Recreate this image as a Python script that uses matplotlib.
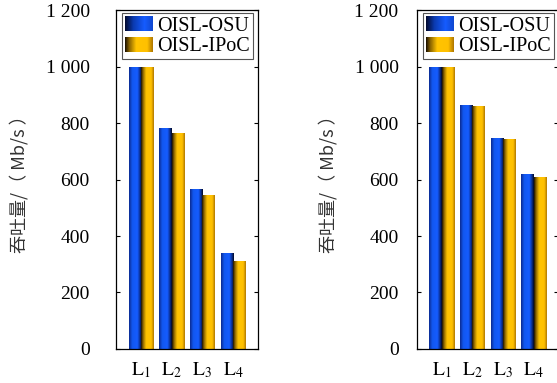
import matplotlib
matplotlib.use("Agg")
import matplotlib.pyplot as plt
import numpy as np
from matplotlib.colors import LinearSegmentedColormap
from matplotlib.legend_handler import HandlerBase
from matplotlib.image import BboxImage
from matplotlib.transforms import Bbox, TransformedBbox
from matplotlib.patches import Patch

# data
links = ["1", "2", "3", "4"]
series_names = ["OISL-OSU", "OISL-IPoC"]
left_osu = [1000, 782, 566, 339]
left_ipoc = [1000, 765, 545, 310]
right_osu = [1000, 864, 746, 619]
right_ipoc = [1000, 862, 744, 610]
yticks = [0, 200, 400, 600, 800, 1000, 1200]
ytick_labels = ["0", "200", "400", "600", "800", "1 000", "1 200"]

plt.rcParams["font.family"] = ["Liberation Serif", "DejaVu Serif"]
plt.rcParams["mathtext.fontset"] = "stix"

# gradient colormaps (cylinder-like shading)
blue_cmap = LinearSegmentedColormap.from_list(
    "blue_sh", [(0.0, "#0b2a90"), (0.25, "#1258f0"), (0.65, "#155cff"), (0.85, "#0b2f90"), (1.0, "#020820")])
yellow_cmap = LinearSegmentedColormap.from_list(
    "yel_sh", [(0.0, "#1a1000"), (0.15, "#8a6400"), (0.4, "#ffc400"), (0.8, "#ffc000"), (1.0, "#b07800")])
blue_leg_cmap = LinearSegmentedColormap.from_list(
    "blue_leg", [(0.0, "#020a30"), (0.3, "#0b3ab0"), (0.7, "#155cff"), (1.0, "#1048d0")])
grad = np.linspace(0, 1, 64).reshape(1, -1)


def shade_bars(ax, bars, cmap):
    for p in bars:
        x, y = p.get_x(), p.get_y()
        w, h = p.get_width(), p.get_height()
        im = ax.imshow(grad, cmap=cmap, aspect="auto", extent=[x, x + w, y, y + h],
                       interpolation="bilinear", zorder=2)
        im.set_clip_path(p)
        p.set_facecolor("none")
        p.set_edgecolor("none")


class GradHandler(HandlerBase):
    def __init__(self, cmap):
        super().__init__()
        self.cmap = cmap

    def create_artists(self, legend, orig_handle, xdescent, ydescent, width, height, fontsize, trans):
        bb = Bbox.from_bounds(-xdescent, -ydescent, width, height)
        im = BboxImage(TransformedBbox(bb, trans), cmap=self.cmap, interpolation="bilinear")
        im.set_data(grad)
        return [im]


fig = plt.figure(figsize=(5.57, 3.83), dpi=100)
ax1 = fig.add_axes([0.2083, 0.0888, 0.2542, 0.885])
ax2 = fig.add_axes([0.748, 0.0888, 0.2542, 0.885])

x = np.arange(1, len(links) + 1)
w = 0.4

for ax, osu, ipoc, pad, lpad in [(ax1, left_osu, left_ipoc, 19, 12), (ax2, right_osu, right_ipoc, 13, 12)]:
    b1 = ax.bar(x - w / 2, osu, w, zorder=2)
    b2 = ax.bar(x + w / 2, ipoc, w, zorder=2)
    shade_bars(ax, b1, blue_cmap)
    shade_bars(ax, b2, yellow_cmap)
    ax.set_xlim(0.19, 4.8)
    ax.set_ylim(0, 1200)
    ax.set_yticks(yticks)
    ax.set_yticklabels(ytick_labels, fontsize=14)
    ax.set_xticks(x)
    ax.set_xticklabels([r"$\mathrm{L}_{%s}$" % s for s in links], fontsize=14)
    ax.tick_params(axis="y", direction="in", length=3, width=0.8, right=True, pad=pad)
    ax.tick_params(axis="x", length=0, pad=8)
    for sp in ax.spines.values():
        sp.set_linewidth(0.9)
    ax.set_ylabel("吞吐量/（ Mb/s ）", family=["Noto Sans CJK SC", "DejaVu Sans"],
                  fontsize=13, color="#333333", labelpad=lpad)
    handles = [Patch(label=series_names[0]), Patch(label=series_names[1])]
    leg = ax.legend(handles=handles, loc="upper left", bbox_to_anchor=(0.042, 0.99),
                    fontsize=14.5, fancybox=False, framealpha=1, edgecolor="#555555",
                    borderpad=0.15, labelspacing=0.05, handlelength=1.35, handleheight=0.75,
                    handletextpad=0.25, borderaxespad=0,
                    handler_map={handles[0]: GradHandler(blue_leg_cmap), handles[1]: GradHandler(yellow_cmap)})
    leg.get_frame().set_linewidth(0.8)

fig.savefig("out.png", dpi=100)
